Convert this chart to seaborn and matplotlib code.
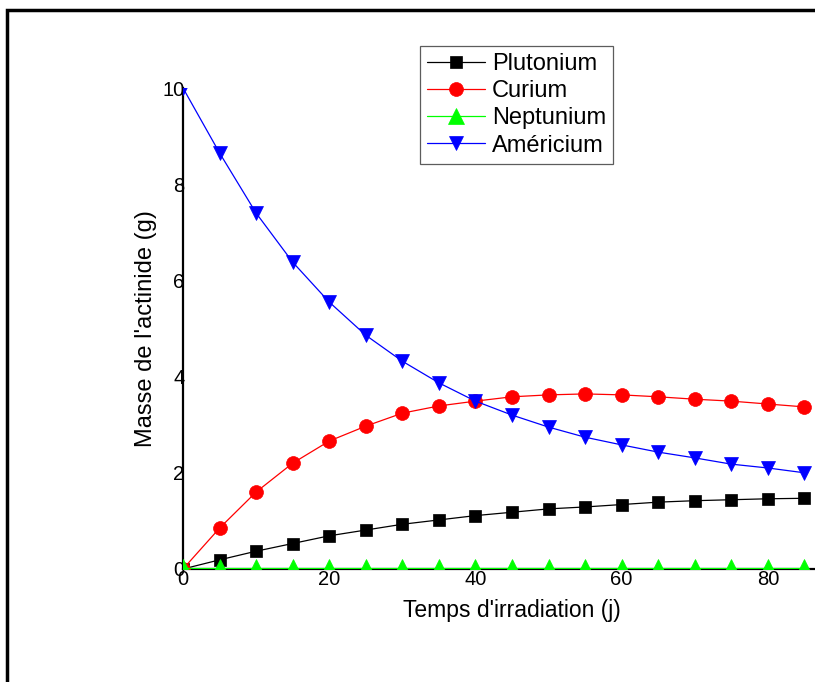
import numpy as np
import pandas as pd
import matplotlib
matplotlib.use("Agg")
import matplotlib.pyplot as plt
import seaborn as sns
from matplotlib.patches import Rectangle

# Irradiation time (days) and actinide masses (g)
temps = [0, 5, 10, 15, 20, 25, 30, 35, 40, 45, 50, 55, 60, 65, 70, 75, 80, 85]
plutonium = [0.0, 0.19, 0.37, 0.53, 0.69, 0.81, 0.93, 1.02, 1.11, 1.18, 1.25, 1.29,
             1.34, 1.39, 1.42, 1.44, 1.46, 1.47]
curium = [0.0, 0.85, 1.60, 2.20, 2.66, 2.97, 3.24, 3.39, 3.49, 3.58, 3.62, 3.64,
          3.62, 3.58, 3.53, 3.49, 3.43, 3.37]
neptunium = [0.0] * 18
americium = [10.0, 8.65, 7.40, 6.38, 5.55, 4.86, 4.32, 3.87, 3.49, 3.20, 2.95, 2.74,
             2.58, 2.43, 2.31, 2.18, 2.10, 2.00]

x_ticks = [0, 20, 40, 60, 80]
y_ticks = [0, 2, 4, 6, 8, 10]

series = {
    "Plutonium": (plutonium, "black", "s", 8.5, 9),
    "Curium": (curium, "red", "o", 10, 10),
    "Neptunium": (neptunium, "#00ff00", "^", 14, 12),
    "Américium": (americium, "blue", "v", 10.5, 10.5),
}

sns.set_style("white")
plt.rcParams["font.family"] = ["Liberation Sans", "DejaVu Sans"]
plt.rcParams["text.color"] = "black"
plt.rcParams["axes.labelcolor"] = "black"

fig = plt.figure(figsize=(8.15, 6.82), dpi=100)
ax = fig.add_axes([183 / 815, 1 - 569 / 682, 658 / 815, (569 - 88) / 682])

for name, (vals, color, marker, ms, _) in series.items():
    df = pd.DataFrame({"t": temps, "m": vals})
    sns.lineplot(data=df, x="t", y="m", ax=ax, color=color, marker=marker,
                 markersize=ms, markeredgecolor=color, markeredgewidth=0.5,
                 linewidth=0.9 if name != "Neptunium" else 1.6,
                 label=name, clip_on=True)

ax.set_xlim(0, 90)
ax.set_ylim(0, 10)
ax.set_xticks(x_ticks)
ax.set_yticks(y_ticks)
ax.tick_params(axis="both", length=0, labelsize=14.5, colors="black")
ax.tick_params(axis="y", pad=-1)
ax.tick_params(axis="x", pad=1)
ax.set_xlabel("Temps d'irradiation (j)", fontsize=16.5, labelpad=7)
ax.set_ylabel("Masse de l'actinide (g)", fontsize=17, labelpad=4)

for side in ["top", "right"]:
    ax.spines[side].set_visible(False)
for side in ["left", "bottom"]:
    ax.spines[side].set_color("black")
    ax.spines[side].set_linewidth(1.6)
    ax.spines[side].set_zorder(1)

leg = ax.legend(loc="upper left", bbox_to_anchor=(420 / 815, 1 - 46 / 682),
                bbox_transform=fig.transFigure, borderaxespad=0, fontsize=17,
                frameon=True, fancybox=False, edgecolor="#333333",
                handlelength=2.45, handletextpad=0.3, labelspacing=0.22,
                borderpad=0.3, numpoints=1)
leg.get_frame().set_linewidth(0.9)
for txt in leg.get_texts():
    txt.set_color("black")
for handle, (name, (_, _, _, _, lms)) in zip(leg.legend_handles, series.items()):
    handle.set_markersize(lms)
    handle.set_linewidth(0.9)

# outer frame around the figure
fig.patches.append(Rectangle((6.5 / 815, -0.1), 1.2, 1.1 - 9.5 / 682,
                             transform=fig.transFigure, fill=False,
                             edgecolor="black", linewidth=2.5))

fig.savefig("out.png", dpi=100)
